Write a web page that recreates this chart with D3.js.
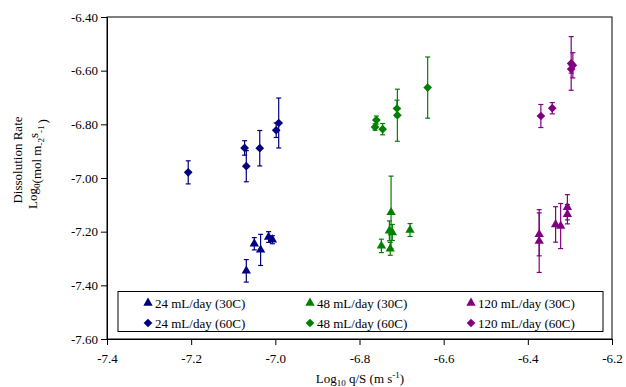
<!DOCTYPE html>
<html>
<head>
<meta charset="utf-8">
<script src="https://cdn.jsdelivr.net/npm/d3@7"></script>
<style>
  body { margin: 0; background: #fff; }
  text { font-family: "Liberation Serif", "Times New Roman", serif; }
</style>
</head>
<body>
<svg id="chart" width="626" height="387"></svg>
<script>
// ---- data ----
const xTicks = [-7.4, -7.2, -7.0, -6.8, -6.6, -6.4, -6.2];
const yTicks = [-7.6, -7.4, -7.2, -7.0, -6.8, -6.6, -6.4];

const names = ["24 mL/day (30C)", "48 mL/day (30C)", "120 mL/day (30C)",
               "24 mL/day (60C)", "48 mL/day (60C)", "120 mL/day (60C)"];

const blue30X = [-7.069, -7.050, -7.035, -7.016, -7.007];
const blue30Y = [-7.346, -7.245, -7.268, -7.220, -7.230];
const blue30E = [0.042, 0.023, 0.058, 0.020, 0.015];

const blue60X = [-7.207, -7.073, -7.069, -7.037, -6.998, -6.992];
const blue60Y = [-6.979, -6.888, -6.956, -6.889, -6.822, -6.795];
const blue60E = [0.043, 0.027, 0.058, 0.066, 0.027, 0.093];

const green30X = [-6.725, -6.729, -6.722, -6.748, -6.727, -6.680];
const green30Y = [-7.128, -7.197, -7.203, -7.253, -7.264, -7.194];
const green30E = [0.135, 0.037, 0.030, 0.025, 0.024, 0.024];

const green60X = [-6.760, -6.763, -6.745, -6.711, -6.710, -6.638];
const green60Y = [-6.784, -6.810, -6.818, -6.741, -6.766, -6.663];
const green60E = [0.015, 0.012, 0.021, 0.031, 0.097, 0.114];

const purple30X = [-6.373, -6.373, -6.334, -6.322, -6.306, -6.306];
const purple30Y = [-7.210, -7.235, -7.173, -7.179, -7.109, -7.135];
const purple30E = [0.080, 0.117, 0.066, 0.084, 0.047, 0.036];

const purple60X = [-6.369, -6.342, -6.297, -6.293, -6.297];
const purple60Y = [-6.769, -6.740, -6.573, -6.580, -6.594];
const purple60E = [0.043, 0.021, 0.100, 0.047, 0.015];

const colors = ["#000080", "#008000", "#800080"];

const series = [
  {name: names[0], color: colors[0], shape: "tri", x: blue30X, y: blue30Y, e: blue30E},
  {name: names[1], color: colors[1], shape: "tri", x: green30X, y: green30Y, e: green30E},
  {name: names[2], color: colors[2], shape: "tri", x: purple30X, y: purple30Y, e: purple30E},
  {name: names[3], color: colors[0], shape: "dia", x: blue60X, y: blue60Y, e: blue60E},
  {name: names[4], color: colors[1], shape: "dia", x: green60X, y: green60Y, e: green60E},
  {name: names[5], color: colors[2], shape: "dia", x: purple60X, y: purple60Y, e: purple60E}
];

// ---- layout ----
const L = 107, R = 612, T = 17, B = 339;
const svg = d3.select("#chart");
const x = d3.scaleLinear().domain([-7.4, -6.2]).range([L, R]);
const y = d3.scaleLinear().domain([-7.6, -6.4]).range([B, T]);

const triSym = d3.symbol().type(d3.symbolTriangle).size(38);
const diaSym = d3.symbol().type(d3.symbolSquare).size(38);
function marker(g, shape, color) {
  const p = g.append("path").attr("fill", color)
    .attr("d", shape === "tri" ? triSym() : diaSym());
  if (shape === "dia") p.attr("transform", "rotate(45)");
  return p;
}

// frame
svg.append("rect").attr("x", L).attr("y", T).attr("width", R - L).attr("height", B - T)
  .attr("fill", "none").attr("stroke", "#000").attr("stroke-width", 1);

// axes
const gx = svg.append("g").attr("transform", `translate(0,${B})`)
  .call(d3.axisBottom(x).tickValues(xTicks).tickSize(6).tickSizeOuter(0).tickFormat(d3.format(".1f")));
const gy = svg.append("g").attr("transform", `translate(${L},0)`)
  .call(d3.axisLeft(y).tickValues(yTicks).tickSize(6).tickSizeOuter(0).tickFormat(d3.format(".2f")));
[gx, gy].forEach(g => {
  g.select(".domain").attr("stroke", "#000");
  g.selectAll(".tick line").attr("stroke", "#000");
  g.selectAll(".tick text").attr("font-size", 13).attr("fill", "#000")
    .style("font-family", "'Liberation Serif', serif");
});
gx.selectAll(".tick text").attr("dy", "1.15em").text(d => d3.format(".1f")(d).replace("−", "-"));
gy.selectAll(".tick text").attr("x", -9).text(d => d3.format(".2f")(d).replace("−", "-"));

// error bars + markers
series.forEach(s => {
  const g = svg.append("g");
  s.x.forEach((xv, i) => {
    const cx = x(xv), y1 = y(s.y[i] + s.e[i]), y2 = y(s.y[i] - s.e[i]);
    g.append("line").attr("x1", cx).attr("x2", cx).attr("y1", y1).attr("y2", y2)
      .attr("stroke", s.color).attr("stroke-width", 1.2);
    [y1, y2].forEach(yy => g.append("line").attr("x1", cx - 2.5).attr("x2", cx + 2.5)
      .attr("y1", yy).attr("y2", yy).attr("stroke", s.color).attr("stroke-width", 1.2));
  });
  s.x.forEach((xv, i) => {
    const m = g.append("g").attr("transform", `translate(${x(xv)},${y(s.y[i])})`);
    marker(m, s.shape, s.color);
  });
});

// legend
const lg = svg.append("g");
lg.append("rect").attr("x", 118).attr("y", 291.5).attr("width", 485).attr("height", 40)
  .attr("fill", "#fff").attr("stroke", "#000").attr("stroke-width", 1);
const colX = [148, 310, 471];
const rowY = [303, 323];
series.forEach((s, i) => {
  const cx = colX[i % 3], cy = rowY[Math.floor(i / 3)];
  const m = lg.append("g").attr("transform", `translate(${cx},${cy})`);
  marker(m, s.shape, s.color);
  lg.append("text").attr("x", cx + 7).attr("y", cy + 4.5).attr("font-size", 13)
    .attr("fill", "#000").text(s.name);
});

// x title
const xt = svg.append("text").attr("x", 360).attr("y", 383).attr("text-anchor", "middle")
  .attr("font-size", 13).attr("fill", "#000");
xt.append("tspan").text("Log");
xt.append("tspan").attr("font-size", 9).attr("dy", 3).text("10");
xt.append("tspan").attr("dy", -3).text(" q/S (m s");
xt.append("tspan").attr("font-size", 9).attr("dy", -5).text("-1");
xt.append("tspan").attr("dy", 5).text(")");

// y title
svg.append("text").attr("transform", "translate(22,160) rotate(-90)")
  .attr("text-anchor", "middle").attr("font-size", 13).attr("fill", "#000")
  .text("Dissolution Rate");
const yt = svg.append("text").attr("transform", "translate(37,164) rotate(-90)")
  .attr("text-anchor", "middle").attr("font-size", 13).attr("fill", "#000");
yt.append("tspan").text("Log");
yt.append("tspan").attr("font-size", 9).attr("dy", 3).text("0");
yt.append("tspan").attr("dy", 1).text("(mol m");
yt.append("tspan").attr("font-size", 9).attr("dy", 3).text("-2");
yt.append("tspan").attr("dy", -6).text("s");
yt.append("tspan").attr("font-size", 9).attr("dy", 6).text("-1");
yt.append("tspan").attr("dx", 2).attr("dy", 3).text(")");
</script>
</body>
</html>
